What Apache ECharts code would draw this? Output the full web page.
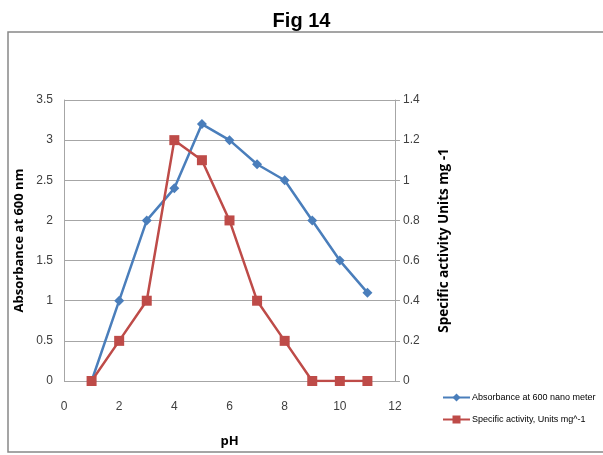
<!DOCTYPE html>
<html>
<head>
<meta charset="utf-8">
<script src="https://cdn.jsdelivr.net/npm/echarts@6/dist/echarts.min.js"></script>
<style>
  html, body { margin: 0; padding: 0; background: #fff; }
  #main { width: 603px; height: 455px; }
</style>
</head>
<body>
<div id="main"></div>
<script>
// pH values and the two measured series
var phValues = [1, 2, 3, 4, 5, 6, 7, 8, 9, 10, 11];
var absorbance = [0, 1, 2, 2.4, 3.2, 3.0, 2.7, 2.5, 2.0, 1.5, 1.1];
var activity = [0, 0.2, 0.4, 1.2, 1.1, 0.8, 0.4, 0.2, 0, 0, 0];
var seriesNames = ['Absorbance at 600 nano meter', 'Specific activity, Units mg^-1'];

var myChart = echarts.init(document.getElementById('main'));

var pairs = function (ys) {
    return phValues.map(function (x, i) { return [x, ys[i]]; });
};

var narrow = '"Liberation Sans Narrow", "Liberation Sans", sans-serif';
var tickFont = { color: '#404040', fontSize: 12, fontFamily: narrow };
var nameFont = { fontSize: 13, fontWeight: 'bold', color: '#000', fontFamily: '"Open Sans", sans-serif' };

option = {
    animation: false,
    title: {
        text: 'Fig 14',
        left: 'center',
        top: 6,
        textStyle: { fontSize: 20, fontWeight: 'bold', color: '#000', fontFamily: narrow }
    },
    graphic: [{
        type: 'rect',
        shape: { x: 8, y: 32, width: 610, height: 420 },
        style: { fill: null, stroke: '#888', lineWidth: 1.5 },
        silent: true
    }],
    legend: {
        orient: 'vertical',
        left: 437,
        top: 388,
        itemGap: 13,
        itemWidth: 27,
        itemHeight: 10,
        data: seriesNames,
        textStyle: { fontSize: 9, color: '#000', fontFamily: narrow, padding: [0, 0, 0, -3] }
    },
    grid: { left: 64, right: 208, top: 100, bottom: 74 },
    xAxis: {
        type: 'value',
        min: 0, max: 12, interval: 2,
        name: 'pH',
        nameLocation: 'middle',
        nameGap: 54,
        nameTextStyle: nameFont,
        axisLine: { show: false },
        axisTick: { show: false },
        splitLine: { show: false },
        axisLabel: Object.assign({ margin: 20 }, tickFont)
    },
    yAxis: [{
        type: 'value',
        min: 0, max: 3.5, interval: 0.5,
        name: 'Absorbance at 600 nm',
        nameLocation: 'middle',
        nameGap: 37,
        nameTextStyle: nameFont,
        axisLine: { show: true, lineStyle: { color: '#a6a6a6' } },
        axisTick: { show: false },
        splitLine: { show: true, lineStyle: { color: '#a6a6a6' } },
        axisLabel: Object.assign({ margin: 11 }, tickFont)
    }, {
        type: 'value',
        min: 0, max: 1.4, interval: 0.2,
        name: 'Specific activity Units mg -1',
        nameLocation: 'middle',
        nameGap: 42,
        nameRotate: 90,
        nameTextStyle: Object.assign({}, nameFont, { fontSize: 13.5 }),
        axisLine: { show: true, lineStyle: { color: '#a6a6a6' } },
        axisTick: { show: true, length: 5, lineStyle: { color: '#a6a6a6' } },
        splitLine: { show: false },
        axisLabel: Object.assign({ margin: 8 }, tickFont)
    }],
    series: [{
        name: seriesNames[0],
        type: 'line',
        yAxisIndex: 0,
        data: pairs(absorbance),
        symbol: 'diamond',
        symbolSize: 10,
        itemStyle: { color: '#4a7ebb' },
        lineStyle: { color: '#4a7ebb', width: 2.5 }
    }, {
        name: seriesNames[1],
        type: 'line',
        yAxisIndex: 1,
        data: pairs(activity),
        symbol: 'rect',
        symbolSize: 10,
        itemStyle: { color: '#be4b48' },
        lineStyle: { color: '#be4b48', width: 2.5 }
    }]
};

myChart.setOption(option);
</script>
</body>
</html>
